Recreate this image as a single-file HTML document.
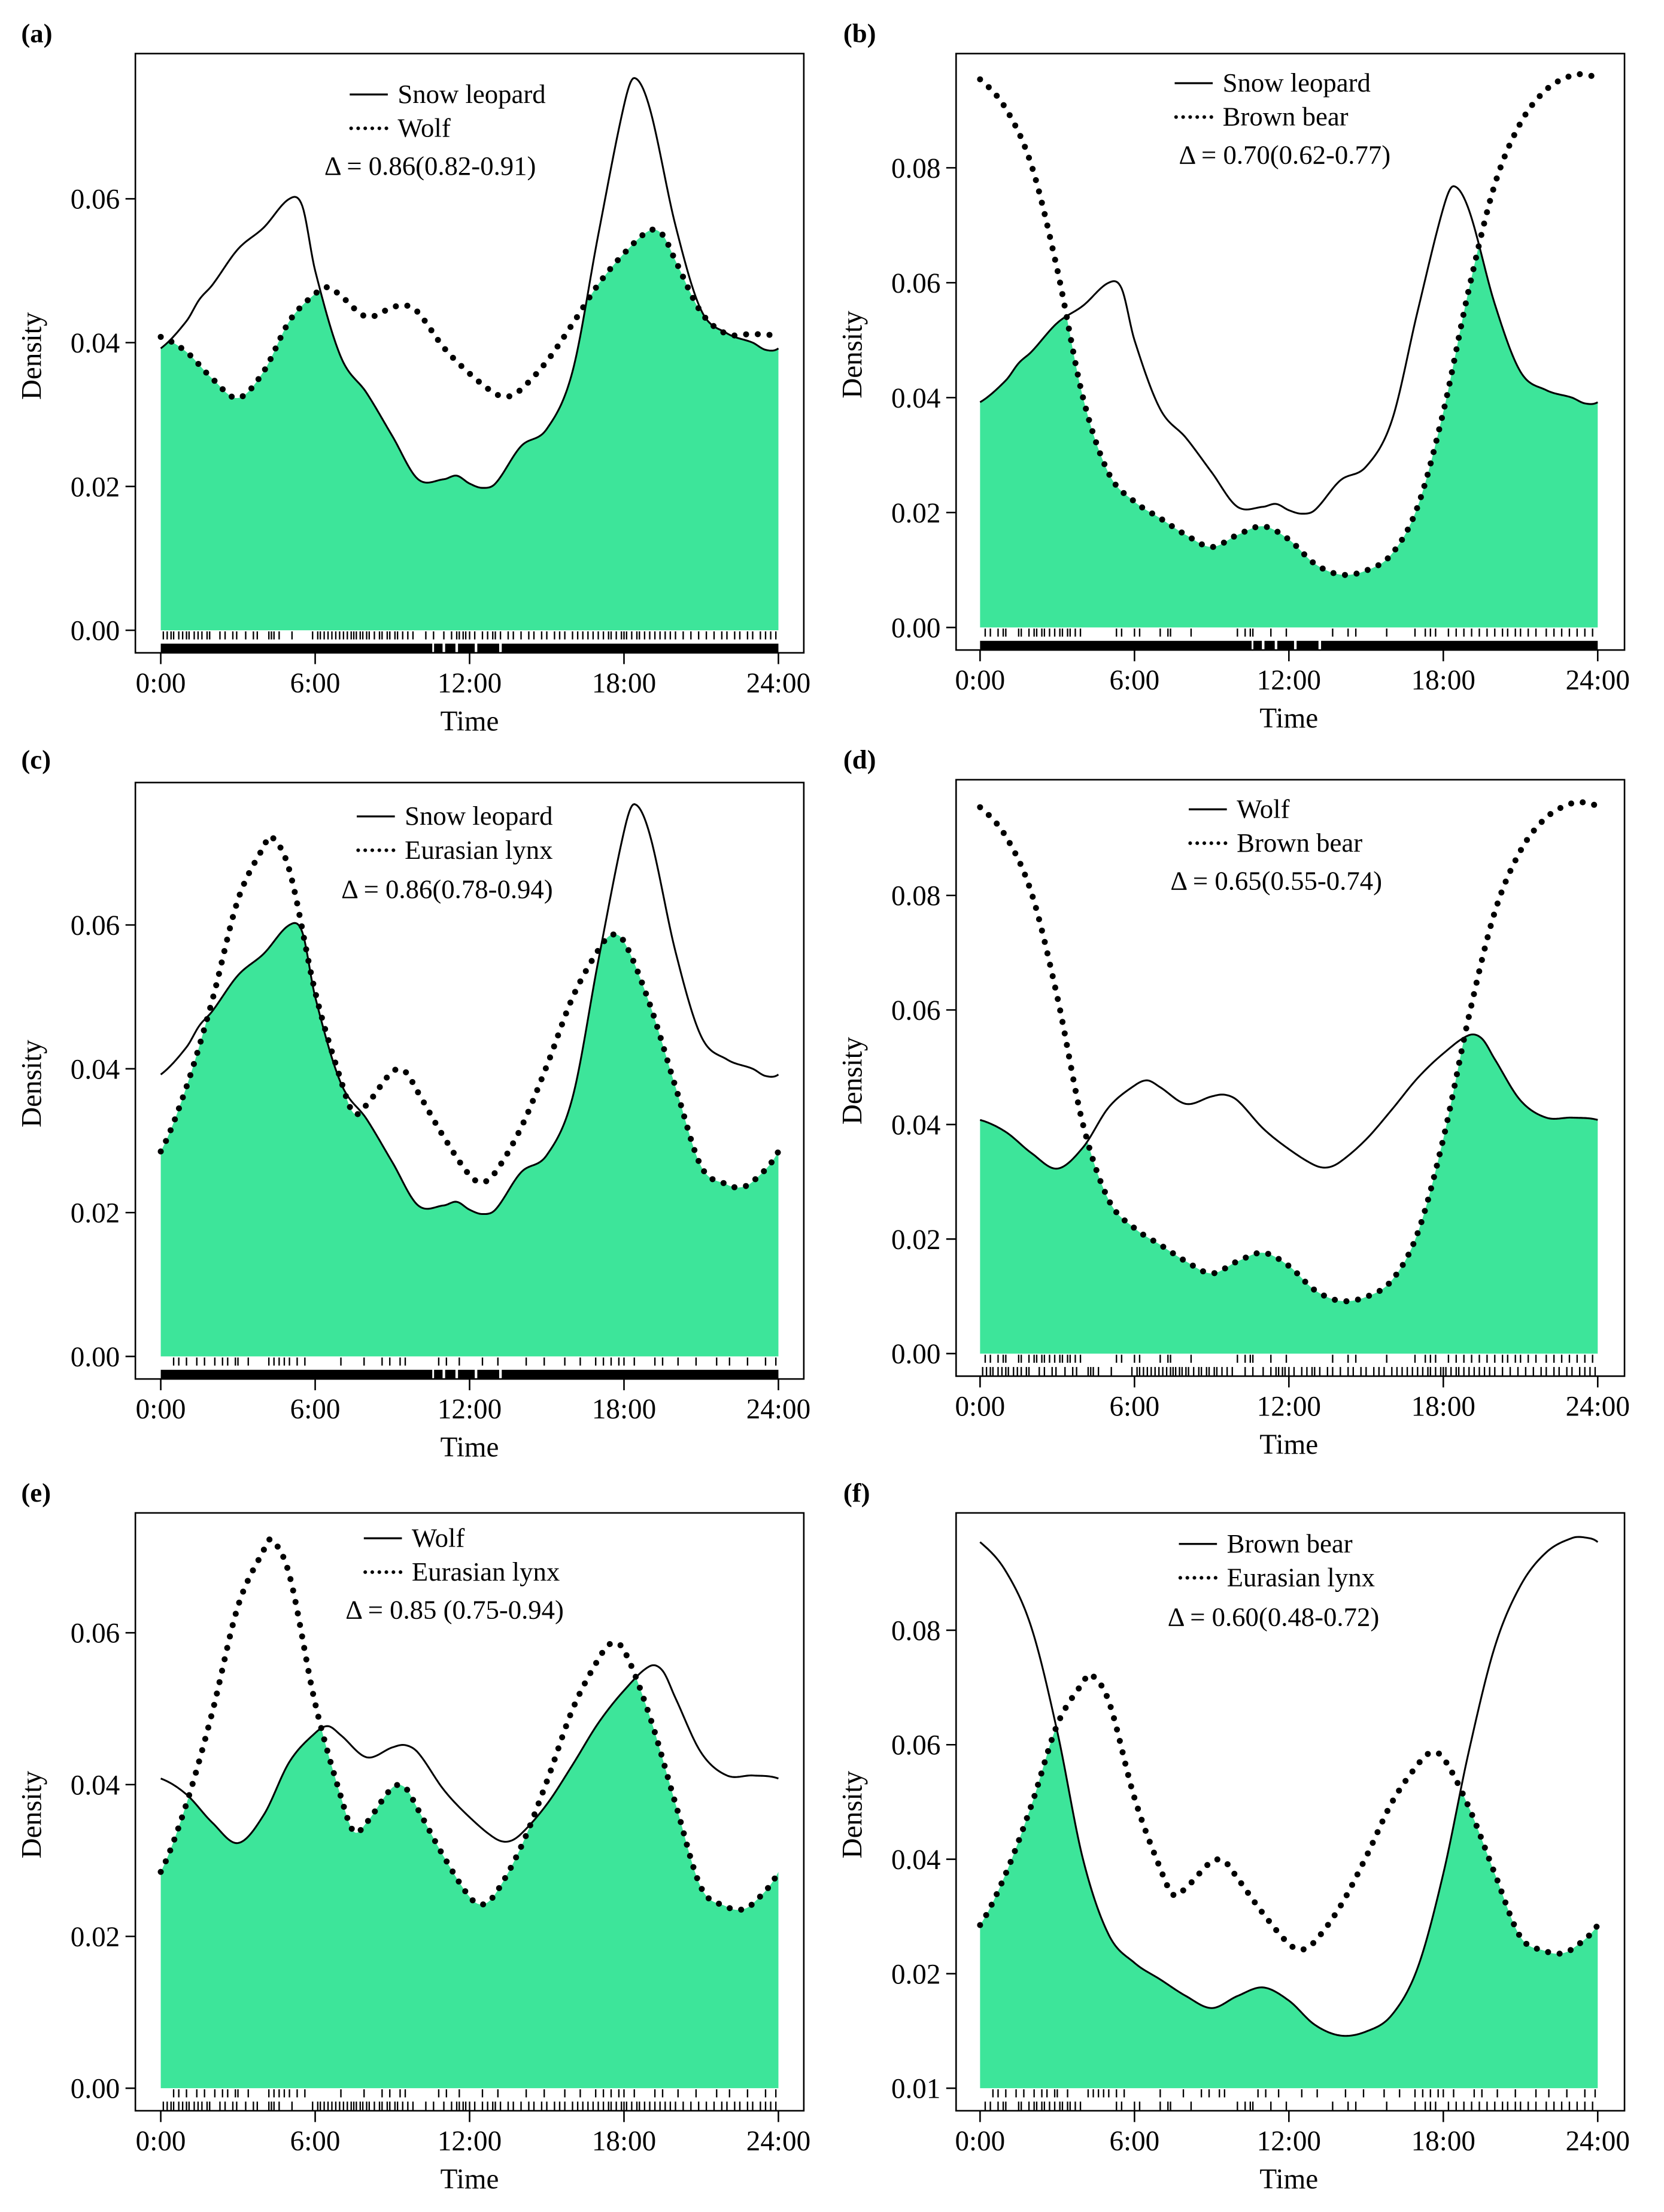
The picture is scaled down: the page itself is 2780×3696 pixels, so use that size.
<!DOCTYPE html>
<html><head><meta charset="utf-8">
<style>
html,body{margin:0;padding:0;background:#fff;}
svg{display:block;}
text{font-family:"Liberation Serif","Times New Roman",serif;fill:#000;}
</style></head>
<body>
<svg id="fig" xmlns="http://www.w3.org/2000/svg" width="2780" height="3696" viewBox="0 0 1180 1568.8"></svg>
<script>
// ---- density curves (hour, density) ----
const slHours = [0,1,1.5,2,3,4,5,5.5,6,7,8,9,10,11,11.5,12,12.5,13,14,15,16,17,18,18.4,19,20,21,22,23,23.5];
const slVals  = [0.0392,0.043,0.046,0.048,0.053,0.056,0.060,0.059,0.050,0.038,0.033,0.027,0.021,0.021,0.0215,0.0204,0.0198,0.0204,0.0256,0.028,0.036,0.055,0.073,0.0768,0.0726,0.0563,0.0445,0.0413,0.040,0.039];
const wolfHours = [0,1,2,3,4,5,6,6.5,7,8,9,9.5,10,11,12,13,13.5,14,15,16,17,18,19,19.5,20,21,22,23];
const wolfVals  = [0.0408,0.0387,0.035,0.0323,0.036,0.043,0.0468,0.0477,0.0465,0.0436,0.0449,0.0452,0.0442,0.0393,0.0357,0.0329,0.0325,0.0335,0.0374,0.0426,0.0481,0.0524,0.0556,0.055,0.0514,0.0442,0.0412,0.0412];
const bearHours = [0,1,2,3,4,5,6,7,8,9,10,11,12,13,14,15,16,17,18,19,20,21,22,23,23.5];
const bearVals  = [0.0954,0.0903,0.0804,0.0623,0.040,0.0268,0.0219,0.019,0.0161,0.014,0.0161,0.0176,0.0153,0.0111,0.0092,0.0099,0.0128,0.021,0.0375,0.059,0.0771,0.0878,0.0936,0.0961,0.0962];
const lynxHours = [0,1,2,3,4,4.3,5,6,7,7.5,8,9,9.5,10,11,12,12.5,13,14,15,16,17,17.5,18,19,20,21,22,22.5,23];
const lynxVals  = [0.0285,0.0375,0.0495,0.0635,0.0709,0.0723,0.0676,0.0507,0.0384,0.0338,0.035,0.0396,0.0396,0.0367,0.0305,0.0252,0.0242,0.0256,0.0318,0.0404,0.0499,0.0565,0.0586,0.0577,0.049,0.0375,0.0264,0.0239,0.0235,0.0243];

// ---- rug (detection times) ----
const slRugRanges = [[0,10.55],[10.62,10.95],[11.05,11.45],[11.55,12.2],[12.3,13.15],[13.25,24]];
const wolfRug = [0.1,0.25,0.4,0.5,0.7,0.85,1.0,1.1,1.3,1.45,1.6,1.8,1.9,2.3,2.5,2.8,2.95,3.3,3.6,3.75,4.2,4.3,4.4,4.6,5.1,5.9,6.1,6.2,6.35,6.5,6.65,6.8,6.95,7.1,7.25,7.4,7.5,7.6,7.75,7.85,8.0,8.1,8.3,8.5,8.6,8.8,8.9,9.1,9.2,9.4,9.6,9.8,10.3,10.6,11.0,11.3,11.5,11.6,11.75,11.85,12.0,12.2,12.5,12.7,12.9,13.0,13.2,13.5,13.7,14.0,14.3,14.5,14.8,15.0,15.3,15.5,15.7,16.0,16.2,16.4,16.6,16.8,17.0,17.2,17.4,17.5,17.7,17.9,18.0,18.1,18.3,18.5,18.6,18.8,19.0,19.2,19.4,19.6,19.8,20.0,20.3,20.6,20.9,21.2,21.5,21.8,22.0,22.3,22.5,22.8,23.0,23.3,23.5,23.7,23.9];
const bearRug = [0.2,0.4,0.7,0.9,1.0,1.5,1.6,1.9,2.1,2.2,2.4,2.5,2.7,2.9,3.1,3.2,3.4,3.5,3.7,3.9,5.3,5.5,6.0,6.2,7.0,7.3,7.4,8.2,10.0,10.3,10.5,10.6,11.3,11.9,13.7,14.3,14.6,15.8,16.9,17.3,17.5,17.7,18.2,18.5,18.8,19.1,19.4,19.7,20.0,20.3,20.5,20.8,21.0,21.3,21.6,22.0,22.3,22.6,22.9,23.2,23.5,23.8];
const lynxRug = [0.5,0.7,1.0,1.4,1.7,2.1,2.4,2.6,2.9,3.0,3.4,4.2,4.4,4.6,4.8,5.0,5.3,5.6,7.0,7.9,8.6,8.9,9.3,9.5,10.8,11.1,11.6,12.5,13.1,14.2,14.9,15.7,16.3,16.9,17.2,17.5,17.8,18.0,18.4,19.2,19.5,20.1,20.8,21.6,22.1,22.8,23.5,23.9];

// ---- axis ticks ----
const xTickHours = [0,6,12,18,24];
const xTickLabels = ["0:00","6:00","12:00","18:00","24:00"];
const yTicksA = [0,0.02,0.04,0.06];
const yLabelsA = ["0.00","0.02","0.04","0.06"];
const yTicksB = [0,0.02,0.04,0.06,0.08];
const yLabelsB = ["0.00","0.02","0.04","0.06","0.08"];
const yLabelsF = ["0.01","0.02","0.04","0.06","0.08"];

const species = {
  sl:{h:slHours,v:slVals,name:"Snow leopard",rug:null},
  wolf:{h:wolfHours,v:wolfVals,name:"Wolf",rug:wolfRug},
  bear:{h:bearHours,v:bearVals,name:"Brown bear",rug:bearRug},
  lynx:{h:lynxHours,v:lynxVals,name:"Eurasian lynx",rug:lynxRug}
};

const panels = [
 {id:"a",s1:"sl",s2:"wolf",delta:"Δ = 0.86(0.82-0.91)",bx0:96,bx1:570,by0:38,by1:463,x0:114,x24:552,yz:447,ppu:5100,yt:yTicksA,yl:yLabelsA,lab:[15,30],lx:248,ly:67,dx:230,dy:124},
 {id:"b",s1:"sl",s2:"bear",delta:"Δ = 0.70(0.62-0.77)",bx0:678,bx1:1152,by0:38,by1:461,x0:695,x24:1133,yz:445,ppu:4075,yt:yTicksB,yl:yLabelsB,lab:[598,30],lx:833,ly:59,dx:836,dy:116},
 {id:"c",s1:"sl",s2:"lynx",delta:"Δ = 0.86(0.78-0.94)",bx0:96,bx1:570,by0:555,by1:978,x0:114,x24:552,yz:962,ppu:5100,yt:yTicksA,yl:yLabelsA,lab:[15,545],lx:253,ly:579,dx:242,dy:637},
 {id:"d",s1:"wolf",s2:"bear",delta:"Δ = 0.65(0.55-0.74)",bx0:678,bx1:1152,by0:553,by1:976,x0:695,x24:1133,yz:960,ppu:4062,yt:yTicksB,yl:yLabelsB,lab:[598,545],lx:843,ly:574,dx:830,dy:631},
 {id:"e",s1:"wolf",s2:"lynx",delta:"Δ = 0.85 (0.75-0.94)",bx0:96,bx1:570,by0:1073,by1:1497,x0:114,x24:552,yz:1481,ppu:5383,yt:yTicksA,yl:yLabelsA,lab:[15,1065],lx:258,ly:1091,dx:245,dy:1148},
 {id:"f",s1:"bear",s2:"lynx",delta:"Δ = 0.60(0.48-0.72)",bx0:678,bx1:1152,by0:1073,by1:1497,x0:695,x24:1133,yz:1481,ppu:4060,yt:yTicksB,yl:yLabelsF,lab:[598,1065],lx:836,ly:1095,dx:828,dy:1153}
];

const NS="http://www.w3.org/2000/svg";
const fig=document.getElementById('fig');
function mk(tag,attrs,parent){const e=document.createElementNS(NS,tag);for(const k in attrs)e.setAttribute(k,attrs[k]);(parent||fig).appendChild(e);return e;}

function evaluator(hs,vs){
  const n=hs.length;
  const t=[hs[n-2]-24,hs[n-1]-24,...hs,hs[0]+24,hs[1]+24];
  const v=[vs[n-2],vs[n-1],...vs,vs[0],vs[1]];
  const m=t.map((_,i)=> (i===0||i===t.length-1)?0:(v[i+1]-v[i-1])/(t[i+1]-t[i-1]));
  return function(x){
    let i=1; while(i<t.length-2 && t[i+1]<x) i++;
    const h=t[i+1]-t[i], s=(x-t[i])/h;
    const h00=2*s*s*s-3*s*s+1,h10=s*s*s-2*s*s+s,h01=-2*s*s*s+3*s*s,h11=s*s*s-s*s;
    return h00*v[i]+h10*h*m[i]+h01*v[i+1]+h11*h*m[i+1];
  };
}
const evals={};for(const k in species)evals[k]=evaluator(species[k].h,species[k].v);

const FF='"Liberation Serif", serif';
panels.forEach(p=>{
  const g=mk('g',{});
  
  
  const X=h=>p.x0+(p.x24-p.x0)*h/24;
  const Y=v=>p.yz-v*p.ppu;
  const e1=evals[p.s1],e2=evals[p.s2];
  const N=480;
  let line1="",line2="",fill="M"+X(0)+","+p.yz;
  for(let i=0;i<=N;i++){
    const h=24*i/N,a=e1(h),b=e2(h);
    line1+=(i?"L":"M")+X(h).toFixed(2)+","+Y(a).toFixed(2);
    line2+=(i?"L":"M")+X(h).toFixed(2)+","+Y(b).toFixed(2);
    fill+="L"+X(h).toFixed(2)+","+Y(Math.min(a,b)).toFixed(2);
  }
  fill+="L"+X(24)+","+p.yz+"Z";
  const fa=mk('path',{d:fill,fill:"#3de59a",stroke:"none"},g);
  
  
  const l1=mk('path',{d:line1,fill:"none",stroke:"#000","stroke-width":1.3},g);
  
  
  const l2=mk('path',{d:line2,fill:"none",stroke:"#000","stroke-width":4.3,"stroke-dasharray":"0 8.3","stroke-linecap":"round"},g);
  
  

  const rows=[[p.s2,p.yz+0.8,p.yz+6.5],[p.s1,p.yz+9.5,p.yz+16]];
  rows.forEach(r=>{
    const rg=mk('g',{},g);
    
    
    if(r[0]==="sl"){
      slRugRanges.forEach(rr=>{
        const rc=mk('rect',{x:X(rr[0]),y:r[1],width:X(rr[1])-X(rr[0]),height:r[2]-r[1],fill:"#000"},rg);
        
        
      });
    } else {
      species[r[0]].rug.forEach(t=>{
        const ln=mk('line',{x1:X(t),x2:X(t),y1:r[1],y2:r[2],stroke:"#000","stroke-width":1},rg);
        
        
      });
    }
  });

  const fr=mk('rect',{x:p.bx0,y:p.by0,width:p.bx1-p.bx0,height:p.by1-p.by0,fill:"none",stroke:"#000","stroke-width":1.1},g);
  
  

  p.yt.forEach((v,i)=>{
    const tk=mk('line',{x1:p.bx0-7,x2:p.bx0,y1:Y(v),y2:Y(v),stroke:"#000","stroke-width":1.1},g);
    
    
    const tx=mk('text',{x:p.bx0-11,y:Y(v)+7,"text-anchor":"end","font-size":20,"font-family":FF},g);
    tx.textContent=p.yl[i];
    
    
  });
  const yt=mk('text',{x:0,y:0,"text-anchor":"middle","font-size":20,"font-family":FF,transform:`translate(${p.bx0-67},${(p.by0+p.by1)/2+2}) rotate(-90)`},g);
  yt.textContent="Density";
  
  

  xTickHours.forEach((h,i)=>{
    const tk=mk('line',{x1:X(h),x2:X(h),y1:p.by1,y2:p.by1+8,stroke:"#000","stroke-width":1.1},g);
    
    
    const tx=mk('text',{x:X(h),y:p.by1+28,"text-anchor":"middle","font-size":20,"font-family":FF},g);
    tx.textContent=xTickLabels[i];
    
    
  });
  const xt=mk('text',{x:(p.x0+p.x24)/2,y:p.by1+55,"text-anchor":"middle","font-size":20,"font-family":FF},g);
  xt.textContent="Time";
  
  

  const pl=mk('text',{x:p.lab[0],y:p.lab[1],"font-size":19,"font-weight":"bold","font-family":FF},g);
  pl.textContent="("+p.id+")";
  
  

  const lg=mk('g',{},g);
  
  
  const ll1=mk('line',{x1:p.lx,x2:p.lx+27,y1:p.ly,y2:p.ly,stroke:"#000","stroke-width":1.4},lg);
  
  
  const lt1=mk('text',{x:p.lx+34,y:p.ly+6,"font-size":19,"font-family":FF},lg);
  lt1.textContent=species[p.s1].name;
  
  
  const ll2=mk('line',{x1:p.lx+1,x2:p.lx+27,y1:p.ly+24,y2:p.ly+24,stroke:"#000","stroke-width":2.6,"stroke-dasharray":"0 5","stroke-linecap":"round"},lg);
  
  
  const lt2=mk('text',{x:p.lx+34,y:p.ly+30,"font-size":19,"font-family":FF},lg);
  lt2.textContent=species[p.s2].name;
  
  
  const dt=mk('text',{x:p.dx,y:p.dy,"font-size":19,"font-family":FF},lg);
  dt.textContent=p.delta;
  
  
});
</script>
</body></html>
